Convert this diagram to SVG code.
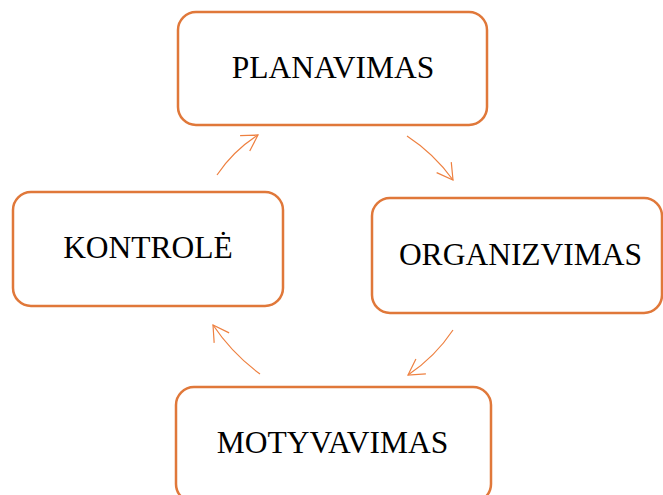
<svg xmlns="http://www.w3.org/2000/svg" width="663" height="495" viewBox="0 0 663 495">
<style>
.box{fill:#FFFFFF;stroke:#E0783A;stroke-width:2.5}
.lbl{font-family:"Liberation Serif","Times New Roman",serif;font-size:31.5px;fill:#000000;text-anchor:middle}
.arr{fill:none;stroke:#EE8040;stroke-width:1.2;marker-end:url(#ah)}
</style>
<defs>
<marker id="ah" markerUnits="userSpaceOnUse" markerWidth="24" markerHeight="24" viewBox="-20 -12 24 24" refX="0" refY="0" orient="auto">
<path d="M -15.5 -9 L 0 0 L -15.5 9" fill="none" stroke="#EE8040" stroke-width="1.2"/>
</marker>
</defs>
<rect width="663" height="495" fill="#FFFFFF"/>
<g id="connectors">
<path class="arr" d="M 217 175 Q 233.3 150.7 258 135"/>
<path class="arr" d="M 407 136 Q 434.1 153.7 453 180"/>
<path class="arr" d="M 453 330 Q 435 357 408 375"/>
<path class="arr" d="M 260 374 Q 232.2 353.6 213 325"/>
</g>
<g id="planavimas">
<rect class="box" x="178" y="12" width="309" height="113" rx="18"/>
<text class="lbl" x="333" y="78">PLANAVIMAS</text>
</g>
<g id="organizvimas">
<rect class="box" x="372" y="198" width="290" height="115" rx="18"/>
<text class="lbl" x="520.5" y="265">ORGANIZVIMAS</text>
</g>
<g id="motyvavimas">
<rect class="box" x="176" y="387" width="315" height="115" rx="18"/>
<text class="lbl" x="332.5" y="453">MOTYVAVIMAS</text>
</g>
<g id="kontrole">
<rect class="box" x="13" y="192" width="270" height="114" rx="18"/>
<text class="lbl" x="148" y="258">KONTROLĖ</text>
</g>
</svg>
